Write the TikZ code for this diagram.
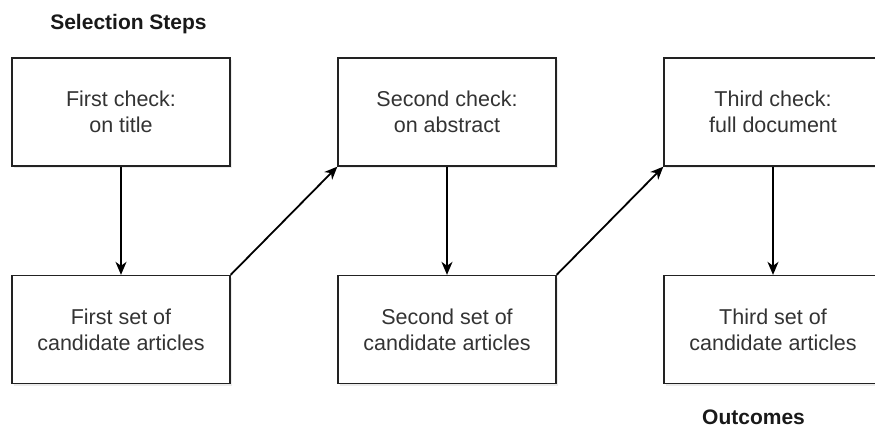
\documentclass[tikz,border=0pt]{standalone}
\usepackage{fontspec}
\setmainfont{Liberation Sans}
\usetikzlibrary{arrows.meta,shadows}
\definecolor{txt}{HTML}{333333}
\definecolor{edge}{HTML}{222222}
\begin{document}
\begin{tikzpicture}[x=1pt,y=1pt,
  box/.style={draw=edge,line width=1.3pt,fill=white,minimum width=218pt,minimum height=108pt,
    align=center,text=txt,font=\fontsize{21.5pt}{26pt}\selectfont,
    drop shadow={shadow xshift=2pt,shadow yshift=-2.5pt,opacity=0.25,fill=gray!60}},
  head/.style={font=\bfseries\fontsize{21pt}{25pt}\selectfont,text=black!90},
  arr/.style={line width=1.8pt,-{Stealth[length=13pt,width=11pt,inset=4pt]}}]
\useasboundingbox (0,0) rectangle (875,427);
\node[head] (t1) at (128.5,403) {Selection Steps};
\node[head] (t2) at (753.5,10) {Outcomes};
\node[box] (c1) at (121,315) {First check:\\on title};
\node[box] (c2) at (447,315) {Second check:\\on abstract};
\node[box] (c3) at (773,315) {Third check:\\full document};
\node[box] (s1) at (121,97.5) {First set of\\candidate articles};
\node[box] (s2) at (447,97.5) {Second set of\\candidate articles};
\node[box] (s3) at (773,97.5) {Third set of\\candidate articles};
\draw[arr] (c1.south) -- (s1.north);
\draw[arr] (c2.south) -- (s2.north);
\draw[arr] (c3.south) -- (s3.north);
\draw[arr] (s1.north east) -- (c2.south west);
\draw[arr] (s2.north east) -- (c3.south west);
\end{tikzpicture}
\end{document}
